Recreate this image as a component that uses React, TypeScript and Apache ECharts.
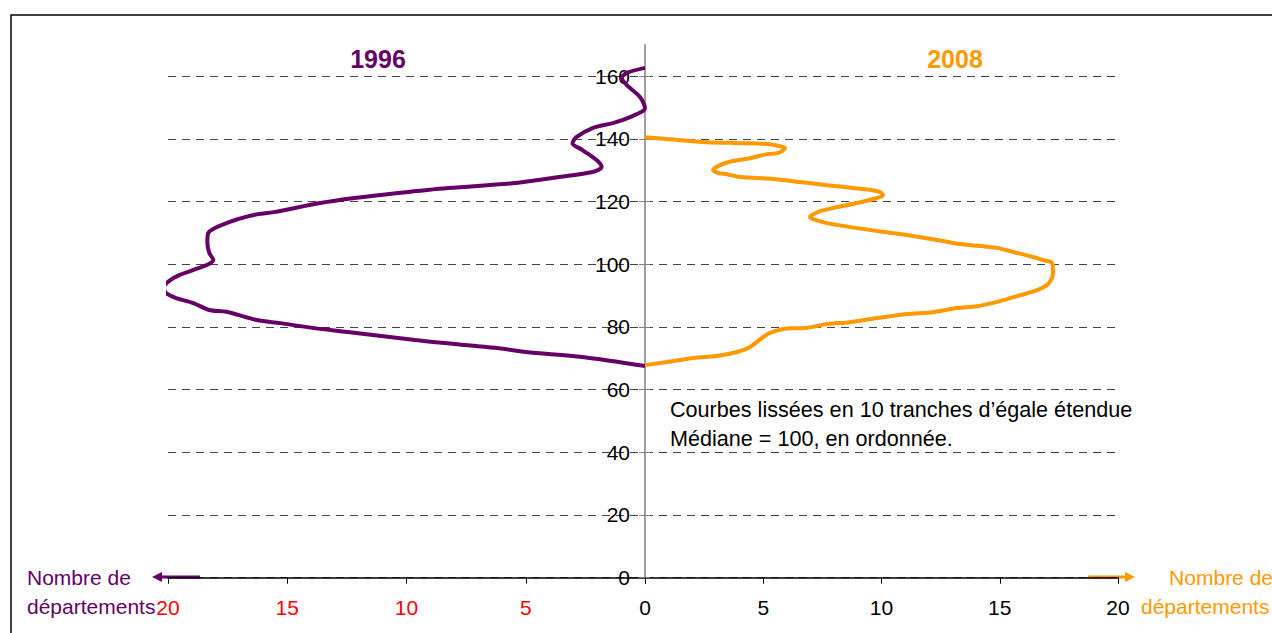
import React, { useEffect, useRef } from "react";
import * as echarts from "echarts";

// 1996 curve: number of départements (drawn to the left) vs index value
const counts1996 = [0, 2.62, 4.99, 6.13, 7.53, 9.64, 12.47, 13.87, 15.31, 16.28, 17.55, 18.27, 18.94, 19.66, 20.08, 20.17, 19.96, 19.53, 18.69, 18.27, 18.1, 18.27, 18.35, 18.31, 17.55, 16.41, 15.56, 13.62, 12.18, 10.36, 8.25, 5.41, 3.59, 2.2, 1.82, 2.03, 2.62, 3.04, 2.88, 2.2, 1.35, 0.63, 0, 0.21, 0.76, 0.97, 0.76, 0];
const index1996 = [67.5, 70.4, 72.0, 73.2, 74.2, 75.8, 78.4, 79.6, 81.2, 82.2, 84.8, 85.4, 87.6, 89.2, 90.8, 92.7, 94.6, 96.5, 98.8, 100.1, 101.3, 103.6, 106.8, 110.0, 113.1, 115.7, 116.6, 119.5, 121.1, 122.7, 124.3, 125.9, 127.8, 129.4, 131.0, 133.2, 136.4, 138.6, 140.5, 143.4, 145.0, 146.9, 149.8, 153.3, 157.1, 159.4, 161.0, 162.6];

// 2008 curve
const counts2008 = [0, 0.93, 2.03, 3.04, 3.89, 4.44, 5.29, 6.26, 6.68, 7.7, 8.67, 9.81, 11.08, 12.18, 13.19, 14.04, 15.01, 15.86, 16.58, 17.0, 17.21, 17.25, 17.21, 16.83, 16.41, 15.56, 14.88, 13.32, 12.6, 11.33, 10.49, 8.96, 7.7, 7.53, 6.98, 7.06, 7.4, 7.95, 8.96, 9.81, 10.06, 9.94, 9.51, 8.79, 7.7, 6.55, 5.41, 4.02, 3.47, 3.09, 2.88, 3.17, 3.72, 4.44, 5.16, 5.62, 5.92, 5.71, 5.16, 4.02, 2.62, 0.93, 0];
const index2008 = [67.8, 68.8, 70.1, 70.7, 72.0, 73.6, 78.1, 79.6, 79.6, 80.9, 81.5, 82.8, 84.1, 84.7, 86.0, 86.6, 88.2, 90.1, 91.7, 93.4, 95.6, 98.2, 100.4, 101.3, 102.3, 103.9, 105.2, 106.4, 107.4, 109.0, 109.9, 111.5, 113.1, 113.4, 115.0, 115.7, 116.9, 117.9, 119.5, 121.1, 122.0, 123.0, 123.7, 124.3, 125.2, 126.2, 127.2, 127.8, 128.7, 129.1, 130.0, 131.6, 132.9, 133.8, 135.1, 135.4, 137.0, 137.6, 138.3, 138.6, 138.9, 139.9, 140.5];

const yTicks = [0, 20, 40, 60, 80, 100, 120, 140, 160];
const xTicks = [0, 5, 10, 15, 20];
const xLabelsLeft = [5, 10, 15, 20];

const PURPLE = "#660066";
const ORANGE = "#FF9900";
const FONT = "'Liberation Sans', Arial, sans-serif";
const FS = 21;

export default function App() {
  const ref = useRef<HTMLDivElement>(null);

  useEffect(() => {
    if (!ref.current) return;
    const chart = echarts.init(ref.current, null, { renderer: "svg" });

    const data1996 = counts1996.map((c, i) => [c, index1996[i]]);
    const data2008 = counts2008.map((c, i) => [c, index2008[i]]);

    const txt = (text: string, x: number, y: number, color: string, opts: any = {}) => ({
      type: "text",
      x,
      y,
      silent: true,
      z: 10,
      style: {
        text,
        fill: color,
        font: `${opts.bold ? "bold " : ""}${opts.size || FS}px ${FONT}`,
        textAlign: opts.align || "left",
        textVerticalAlign: "middle",
      },
    });

    const gridLine = { show: true, lineStyle: { color: "#444444", width: 1, type: [8, 6] } };

    chart.setOption({
      animation: false,
      backgroundColor: "#ffffff",
      grid: [
        { left: 168, width: 477, top: 44.7, bottom: 55.3, containLabel: false },
        { left: 645, right: 154, top: 44.7, bottom: 55.3, containLabel: false },
      ],
      xAxis: [
        {
          type: "value",
          gridIndex: 0,
          min: 0,
          max: 20,
          interval: 5,
          inverse: true,
          position: "bottom",
          axisLine: { onZero: false, lineStyle: { color: "#000", width: 1.5 } },
          axisTick: { show: true, length: 6, customValues: xTicks, lineStyle: { color: "#000", width: 1 } },
          splitLine: { show: false },
          axisLabel: {
            margin: 19,
            customValues: xLabelsLeft,
            color: "#FF0000",
            fontSize: FS,
            fontFamily: FONT,
          },
        },
        {
          type: "value",
          gridIndex: 1,
          min: 0,
          max: 20,
          interval: 5,
          position: "bottom",
          axisLine: { onZero: false, lineStyle: { color: "#000", width: 1.5 } },
          axisTick: { show: true, length: 6, customValues: xTicks, lineStyle: { color: "#000", width: 1 } },
          splitLine: { show: false },
          axisLabel: {
            margin: 19,
            customValues: xTicks,
            color: "#000",
            fontSize: FS,
            fontFamily: FONT,
          },
        },
      ],
      yAxis: [
        {
          type: "value",
          gridIndex: 0,
          min: 0,
          max: 170,
          interval: 20,
          position: "right",
          axisLine: { show: false, onZero: false },
          axisTick: { show: true, length: 5, customValues: yTicks, lineStyle: { color: "#808080" } },
          axisLabel: { show: false },
          splitLine: gridLine,
        },
        {
          type: "value",
          gridIndex: 1,
          min: 0,
          max: 170,
          interval: 20,
          position: "left",
          axisLine: { show: true, onZero: false, lineStyle: { color: "#808080", width: 1.5 } },
          axisTick: { show: true, length: 6, customValues: yTicks, lineStyle: { color: "#808080" } },
          axisLabel: {
            customValues: yTicks,
            margin: 15,
            color: "#000",
            fontSize: FS,
            fontFamily: FONT,
          },
          splitLine: gridLine,
        },
      ],
      series: [
        {
          name: "1996",
          type: "line",
          xAxisIndex: 0,
          yAxisIndex: 0,
          data: data1996,
          showSymbol: false,
          smooth: 0.3,
          clip: false,
          lineStyle: { color: PURPLE, width: 4 },
          z: 3,
        },
        {
          name: "2008",
          type: "line",
          xAxisIndex: 1,
          yAxisIndex: 1,
          data: data2008,
          showSymbol: false,
          smooth: 0.3,
          clip: false,
          lineStyle: { color: ORANGE, width: 4 },
          z: 3,
        },
      ],
      graphic: [
        {
          type: "rect",
          silent: true,
          shape: { x: 11, y: 15, width: 1400, height: 800 },
          style: { fill: "none", stroke: "#000", lineWidth: 1.5 },
        },
        txt("1996", 378, 59, PURPLE, { bold: true, size: 25, align: "center" }),
        txt("2008", 955, 59, ORANGE, { bold: true, size: 25, align: "center" }),
        txt("Courbes lissées en 10 tranches d’égale étendue", 670, 409, "#000", { size: 21.6 }),
        txt("Médiane = 100, en ordonnée.", 670, 438, "#000", { size: 21.6 }),
        txt("Nombre de", 27, 577, PURPLE),
        txt("départements", 27, 606, PURPLE),
        txt("Nombre de", 1273, 577, ORANGE, { align: "right" }),
        txt("départements", 1141, 606, ORANGE),
        {
          type: "line",
          silent: true,
          shape: { x1: 200, y1: 577, x2: 160, y2: 577 },
          style: { stroke: PURPLE, lineWidth: 3 },
        },
        {
          type: "polygon",
          silent: true,
          shape: { points: [[152, 577], [162, 572], [162, 582]] },
          style: { fill: PURPLE },
        },
        {
          type: "line",
          silent: true,
          shape: { x1: 1088, y1: 577, x2: 1127, y2: 577 },
          style: { stroke: ORANGE, lineWidth: 3 },
        },
        {
          type: "polygon",
          silent: true,
          shape: { points: [[1135, 577], [1125, 572], [1125, 582]] },
          style: { fill: ORANGE },
        },
      ],
    });

    return () => chart.dispose();
  }, []);

  return (
    <div
      ref={ref}
      style={{ position: "fixed", left: 0, top: 0, width: 1272, height: 633, background: "#fff" }}
    />
  );
}
